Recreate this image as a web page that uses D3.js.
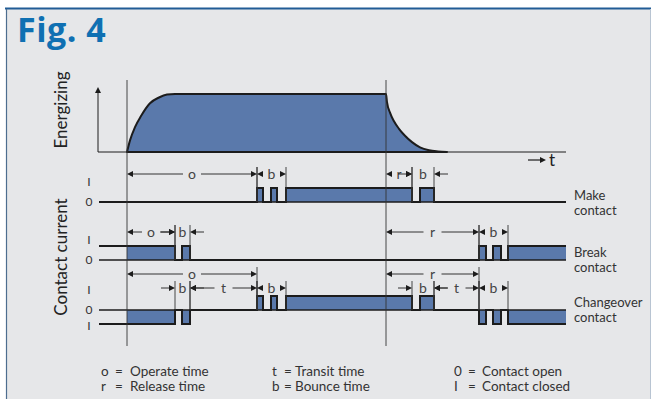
<!DOCTYPE html>
<html>
<head>
<meta charset="utf-8">
<script src="https://cdn.jsdelivr.net/npm/d3@7"></script>
<style>
body { margin: 0; background: #fff; }
text { font-family: Lato, 'Open Sans', sans-serif; fill: #333; }
</style>
</head>
<body>
<svg id="chart" width="653" height="399"></svg>
<script>
// time in arbitrary units: 0 = coil energized, 259 = coil released
const timeSpan = [-28, 439]
const releaseAt = 259

// energizing curve, [time, level]
const riseCurve = [[0, 0], [3, 0.2], [8, 0.43], [14, 0.62], [23, 0.84], [32, 0.94], [40, 0.99], [48, 1]]
const decayCurve = [[259, 1], [260, 0.86], [263, 0.68], [267, 0.53], [272, 0.4], [278, 0.28], [285, 0.17], [293, 0.08], [302, 0.03], [311, 0.01], [320, 0]]

// contact states, [time, state]: 1 = make closed, 0 = open, -1 = break side closed (changeover)
const makeStates = [[-28, 0], [130, 1], [136, 0], [144, 1], [150, 0], [159, 1], [285, 0], [293, 1], [307, 0]]
const breakStates = [[-28, 1], [48, 0], [55, 1], [63, 0], [352, 1], [359, 0], [366, 1], [374, 0], [381, 1]]
const changeoverStates = [[-28, -1], [48, 0], [55, -1], [63, 0], [130, 1], [136, 0], [144, 1], [150, 0], [159, 1],
	[285, 0], [293, 1], [307, 0], [352, -1], [359, 0], [366, -1], [374, 0], [381, -1]]

// dimension marks, [from, to, label, arrow style]
const makeDims = [[0, 130, 'o', 'in'], [130, 159, 'b', 'in'], [259, 285, 'r', 'in'], [285, 307, 'b', 'out']]
const breakDims = [[0, 48, 'o', 'in'], [48, 63, 'b', 'out'], [259, 352, 'r', 'in'], [352, 381, 'b', 'in']]
const changeoverDimsTop = [[0, 130, 'o', 'in'], [259, 352, 'r', 'in']]
const changeoverDimsLow = [[48, 63, 'b', 'out'], [63, 130, 't', 'in'], [130, 159, 'b', 'in'],
	[285, 307, 'b', 'out'], [307, 352, 't', 'in'], [352, 381, 'b', 'in']]

const contactNames = [['Make', 'contact'], ['Break', 'contact'], ['Changeover', 'contact']]
const legendItems = [
	[['o', 'Operate time'], ['r', 'Release time']],
	[['t', 'Transit time'], ['b', 'Bounce time']],
	[['0', 'Contact open'], ['I', 'Contact closed']]
]

const blue = '#5a79ab'
const ink = '#1c1c1c'
const svg = d3.select('#chart')

// frame
svg.append('rect').attr('x', 6).attr('y', 9).attr('width', 644).attr('height', 392).attr('fill', '#e6e7e9')
svg.append('line').attr('x1', 5).attr('x2', 651).attr('y1', 8.5).attr('y2', 8.5).attr('stroke', '#215c96').attr('stroke-width', 2)
svg.append('line').attr('x1', 6.5).attr('x2', 6.5).attr('y1', 9).attr('y2', 399).attr('stroke', '#4d6d8f').attr('stroke-width', 1.2)
svg.append('line').attr('x1', 650.5).attr('x2', 650.5).attr('y1', 9).attr('y2', 399).attr('stroke', '#b8c4d2').attr('stroke-width', 1)

svg.append('text').attr('x', 17).attr('y', 42)
	.style('font-family', "'Open Sans', 'Noto Sans', sans-serif").style('font-weight', 700)
	.style('font-size', '34px').style('letter-spacing', '0.5px').style('fill', '#0f70b2').text('Fig. 4')

const x = d3.scaleLinear().domain(timeSpan).range([99, 566])

function arrowHead (g, tipX, tipY, dir, vertical) {
	const l = 6, w = 3
	const pts = vertical
		? [[tipX, tipY], [tipX - w, tipY - dir * l], [tipX + w, tipY - dir * l]]
		: [[tipX, tipY], [tipX - dir * l, tipY - w], [tipX - dir * l, tipY + w]]
	g.append('path').attr('d', 'M' + pts.join('L') + 'Z').attr('fill', ink)
}

// ---- energizing panel
const yE = d3.scaleLinear().domain([0, 1]).range([152, 94])
const energ = riseCurve.concat(decayCurve)
const gE = svg.append('g')
gE.append('line').attr('x1', 98).attr('x2', x(timeSpan[1])).attr('y1', yE(0)).attr('y2', yE(0)).attr('stroke', ink).attr('stroke-width', 1)
gE.append('line').attr('x1', 98).attr('x2', 98).attr('y1', yE(0)).attr('y2', 93).attr('stroke', ink).attr('stroke-width', 1)
arrowHead(gE, 98, 87, -1, true)
gE.append('path')
	.attr('d', d3.area().x((d) => x(d[0])).y0(yE(0)).y1((d) => yE(d[1])).curve(d3.curveMonotoneX)(energ))
	.attr('fill', blue).attr('stroke', ink).attr('stroke-width', 2).attr('stroke-linejoin', 'round')
gE.append('line').attr('x1', 528).attr('x2', 540).attr('y1', 160).attr('y2', 160).attr('stroke', ink).attr('stroke-width', 1.2)
arrowHead(gE, 546, 160, 1, false)
gE.append('text').attr('x', 549).attr('y', 166).style('font-size', '17px').style('fill', '#222').text('t')
gE.append('text').attr('transform', 'translate(67,110) rotate(-90)').attr('text-anchor', 'middle')
	.style('font-size', '17px').style('fill', '#222').text('Energizing')
svg.append('text').attr('transform', 'translate(67,257) rotate(-90)').attr('text-anchor', 'middle')
	.style('font-size', '17px').style('fill', '#222').text('Contact current')

// ---- contact panels
function stateAt (states, t) {
	let s = states[0][1]
	states.forEach((d) => { if (d[0] <= t) s = d[1] })
	return s
}

function drawContact (states, y, levels) {
	const g = svg.append('g')
	const end = [timeSpan[1], states[states.length - 1][1]]
	const all = states.concat([end])
	const filled = [[0, stateAt(states, 0)]].concat(states.filter((d) => d[0] > 0), [end])
	g.append('path')
		.attr('d', d3.area().x((d) => x(d[0])).y0(y(0)).y1((d) => y(d[1])).curve(d3.curveStepAfter)(filled))
		.attr('fill', blue)
	g.append('line').attr('x1', x(timeSpan[0])).attr('x2', x(timeSpan[1])).attr('y1', y(0)).attr('y2', y(0))
		.attr('stroke', ink).attr('stroke-width', 1.6)
	g.append('path')
		.attr('d', d3.line().x((d) => x(d[0])).y((d) => y(d[1])).curve(d3.curveStepAfter)(all))
		.attr('fill', 'none').attr('stroke', ink).attr('stroke-width', 2)
	levels.forEach((lv) => {
		g.append('text').attr('x', 89).attr('y', y(lv) + (lv === 0 ? 0 : (lv > 0 ? -6 : 2)))
			.attr('dy', '0.35em').attr('text-anchor', 'middle').style('font-size', '12px')
			.text(lv === 0 ? '0' : 'I')
	})
	return g
}

function drawDims (dims, rowY, extBottom) {
	const g = svg.append('g')
	dims.forEach(([a, b, label, style]) => {
		const xa = x(a), xb = x(b), mid = (xa + xb) / 2
		;[a, b].forEach((t) => {
			if (t === 0 || t === releaseAt) return
			g.append('line').attr('x1', x(t)).attr('x2', x(t)).attr('y1', rowY - 7).attr('y2', extBottom)
				.attr('stroke', '#333').attr('stroke-width', 0.9)
		})
		if (style === 'in') {
			const gap = 9
			g.append('line').attr('x1', xa + 5).attr('x2', mid - gap).attr('y1', rowY).attr('y2', rowY).attr('stroke', '#333')
			g.append('line').attr('x1', mid + gap).attr('x2', xb - 5).attr('y1', rowY).attr('y2', rowY).attr('stroke', '#333')
			arrowHead(g, xa, rowY, -1, false)
			arrowHead(g, xb, rowY, 1, false)
		} else {
			g.append('line').attr('x1', xa - 14).attr('x2', xa - 5).attr('y1', rowY).attr('y2', rowY).attr('stroke', '#333')
			g.append('line').attr('x1', xb + 5).attr('x2', xb + 14).attr('y1', rowY).attr('y2', rowY).attr('stroke', '#333')
			arrowHead(g, xa, rowY, 1, false)
			arrowHead(g, xb, rowY, -1, false)
		}
		g.append('text').attr('x', mid).attr('y', rowY).attr('dy', '0.33em').attr('text-anchor', 'middle')
			.style('font-size', '14px').style('fill', '#444').text(label)
	})
}

const yMake = d3.scaleLinear().domain([0, 1]).range([202, 188])
const yBreak = d3.scaleLinear().domain([0, 1]).range([260, 246])
const yChange = d3.scaleLinear().domain([-1, 1]).range([324, 296])

drawContact(makeStates, yMake, [1, 0])
drawContact(breakStates, yBreak, [1, 0])
drawContact(changeoverStates, yChange, [1, 0, -1])

drawDims(makeDims, 174, yMake(0))
drawDims(breakDims, 232, yBreak(0))
drawDims(changeoverDimsTop, 274, yChange(0))
drawDims(changeoverDimsLow, 288, yChange(0))

// contact names on the right
const nameY = [[200, 215], [257, 272], [307, 322]]
contactNames.forEach((lines, i) => {
	lines.forEach((s, j) => {
		svg.append('text').attr('x', 574).attr('y', nameY[i][j]).style('font-size', '13px').text(s)
	})
})

// main time markers
;[0, releaseAt].forEach((t) => {
	svg.append('line').attr('x1', x(t)).attr('x2', x(t)).attr('y1', 80).attr('y2', 346)
		.attr('stroke', '#333').attr('stroke-width', 0.9)
})

// legend
const colX = [101, 272, 454]
const rowY = [376, 391]
legendItems.forEach((col, i) => {
	col.forEach(([k, desc], j) => {
		const g = svg.append('g').style('font-size', '13.5px')
		g.append('text').attr('x', colX[i]).attr('y', rowY[j]).text(k)
		g.append('text').attr('x', colX[i] + (i === 1 ? 12 : 14)).attr('y', rowY[j]).text('=')
		g.append('text').attr('x', colX[i] + (i === 1 ? 23 : (i === 2 ? 28 : 29))).attr('y', rowY[j]).text(desc)
	})
})
</script>
</body>
</html>
